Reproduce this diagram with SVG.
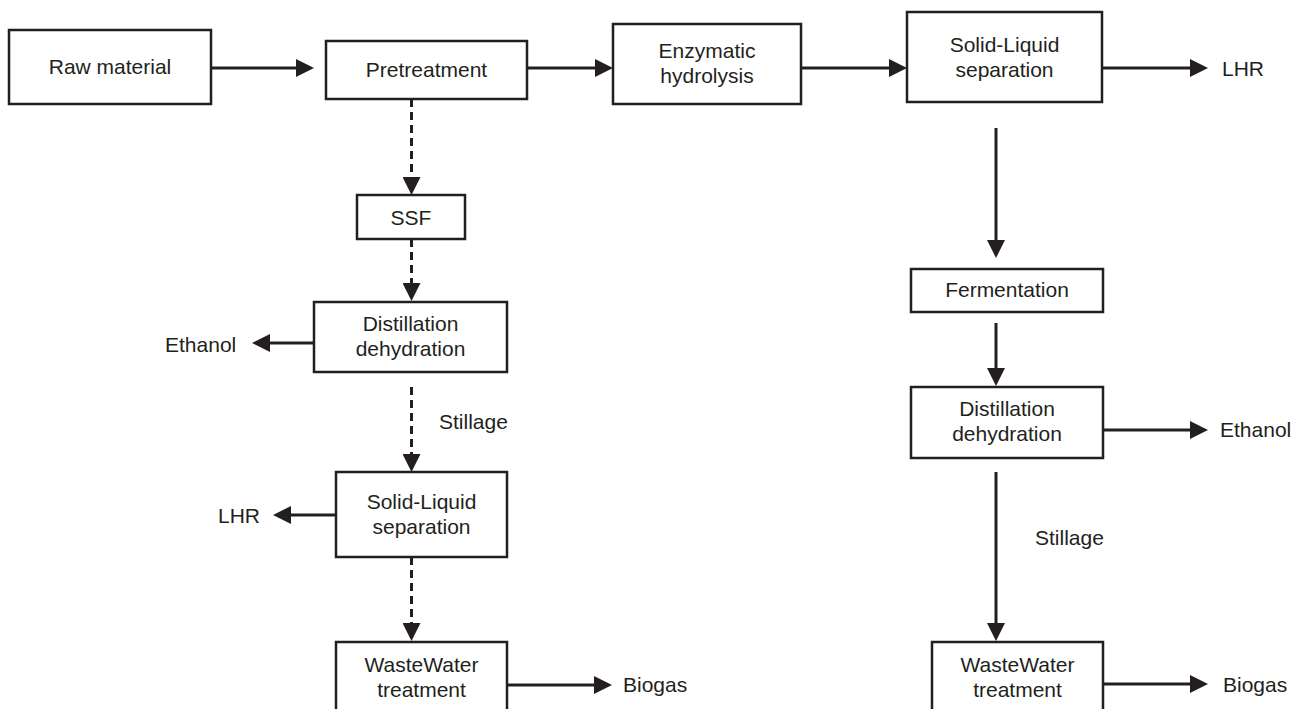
<svg xmlns="http://www.w3.org/2000/svg" width="1293" height="709" viewBox="0 0 1293 709">
<style>
.box{fill:#fff;stroke:#231f20;stroke-width:2.5}
.t{font-family:"Liberation Sans",Arial,Helvetica,sans-serif;font-size:21px;fill:#231f20}
.m{text-anchor:middle}
.c{fill:none;stroke:#231f20;stroke-width:3}
.d{stroke-dasharray:8 5}
</style>
<defs>
<marker id="ah" markerUnits="userSpaceOnUse" markerWidth="18" markerHeight="18" refX="0" refY="9" orient="auto" viewBox="0 0 18 18">
<path d="M0,0 L18,9 L0,18 Z" fill="#231f20"/>
</marker>
</defs>
<rect width="1293" height="709" fill="#fff"/>
<g id="connectors">
<line class="c" x1="211" y1="68" x2="296" y2="68" marker-end="url(#ah)"/>
<line class="c" x1="527" y1="68" x2="595" y2="68" marker-end="url(#ah)"/>
<line class="c" x1="802" y1="68" x2="889" y2="68" marker-end="url(#ah)"/>
<line class="c" x1="1102" y1="68" x2="1190" y2="68" marker-end="url(#ah)"/>
<line class="c" x1="996" y1="128" x2="996" y2="240" marker-end="url(#ah)"/>
<line class="c" x1="996" y1="323" x2="996" y2="368" marker-end="url(#ah)"/>
<line class="c" x1="1102" y1="430" x2="1190" y2="430" marker-end="url(#ah)"/>
<line class="c" x1="996" y1="472" x2="996" y2="623" marker-end="url(#ah)"/>
<line class="c" x1="1102" y1="684" x2="1190" y2="684" marker-end="url(#ah)"/>
<line class="c d" x1="411.5" y1="99" x2="411.5" y2="177" marker-end="url(#ah)"/>
<line class="c d" x1="411.5" y1="239" x2="411.5" y2="283" marker-end="url(#ah)"/>
<line class="c" x1="314" y1="343" x2="270" y2="343" marker-end="url(#ah)"/>
<line class="c d" x1="411.5" y1="387" x2="411.5" y2="454" marker-end="url(#ah)"/>
<line class="c" x1="336" y1="515" x2="291" y2="515" marker-end="url(#ah)"/>
<line class="c d" x1="411.5" y1="557" x2="411.5" y2="623" marker-end="url(#ah)"/>
<line class="c" x1="507" y1="685" x2="594" y2="685" marker-end="url(#ah)"/>
<text class="t" x="439" y="429">Stillage</text>
<text class="t" x="1035" y="545">Stillage</text>
</g>
<g id="raw-material">
<rect class="box" x="9" y="30" width="202" height="74"/>
<text class="t m" x="110" y="74">Raw material</text>
</g>
<g id="pretreatment">
<rect class="box" x="326" y="41" width="201" height="58"/>
<text class="t m" x="426.5" y="77">Pretreatment</text>
</g>
<g id="enzymatic-hydrolysis">
<rect class="box" x="613" y="24" width="188" height="80"/>
<text class="t m" x="707" y="58">Enzymatic</text>
<text class="t m" x="707" y="83">hydrolysis</text>
</g>
<g id="solid-liquid-top">
<rect class="box" x="907" y="12" width="195" height="90"/>
<text class="t m" x="1004.5" y="52">Solid-Liquid</text>
<text class="t m" x="1004.5" y="77">separation</text>
</g>
<g id="lhr-top"><text class="t" x="1222" y="76">LHR</text></g>
<g id="ssf">
<rect class="box" x="357" y="195" width="108" height="44"/>
<text class="t m" x="411" y="224.5">SSF</text>
</g>
<g id="distillation-left">
<rect class="box" x="314" y="302" width="193" height="70"/>
<text class="t m" x="410.5" y="331">Distillation</text>
<text class="t m" x="410.5" y="356">dehydration</text>
</g>
<g id="ethanol-left"><text class="t" x="165" y="351.5">Ethanol</text></g>
<g id="solid-liquid-left">
<rect class="box" x="336" y="472" width="171" height="85"/>
<text class="t m" x="421.5" y="508.5">Solid-Liquid</text>
<text class="t m" x="421.5" y="533.5">separation</text>
</g>
<g id="lhr-left"><text class="t" x="218" y="523">LHR</text></g>
<g id="wastewater-left">
<rect class="box" x="336" y="642" width="171" height="80"/>
<text class="t m" x="421.5" y="672">WasteWater</text>
<text class="t m" x="421.5" y="696.5">treatment</text>
</g>
<g id="biogas-left"><text class="t" x="623" y="692">Biogas</text></g>
<g id="fermentation">
<rect class="box" x="911" y="269" width="192" height="43"/>
<text class="t m" x="1007" y="297">Fermentation</text>
</g>
<g id="distillation-right">
<rect class="box" x="911" y="387" width="192" height="71"/>
<text class="t m" x="1007" y="416">Distillation</text>
<text class="t m" x="1007" y="441">dehydration</text>
</g>
<g id="ethanol-right"><text class="t" x="1220" y="437">Ethanol</text></g>
<g id="wastewater-right">
<rect class="box" x="932" y="642" width="171" height="80"/>
<text class="t m" x="1017.5" y="672">WasteWater</text>
<text class="t m" x="1017.5" y="697">treatment</text>
</g>
<g id="biogas-right"><text class="t" x="1223" y="692">Biogas</text></g>
</svg>
